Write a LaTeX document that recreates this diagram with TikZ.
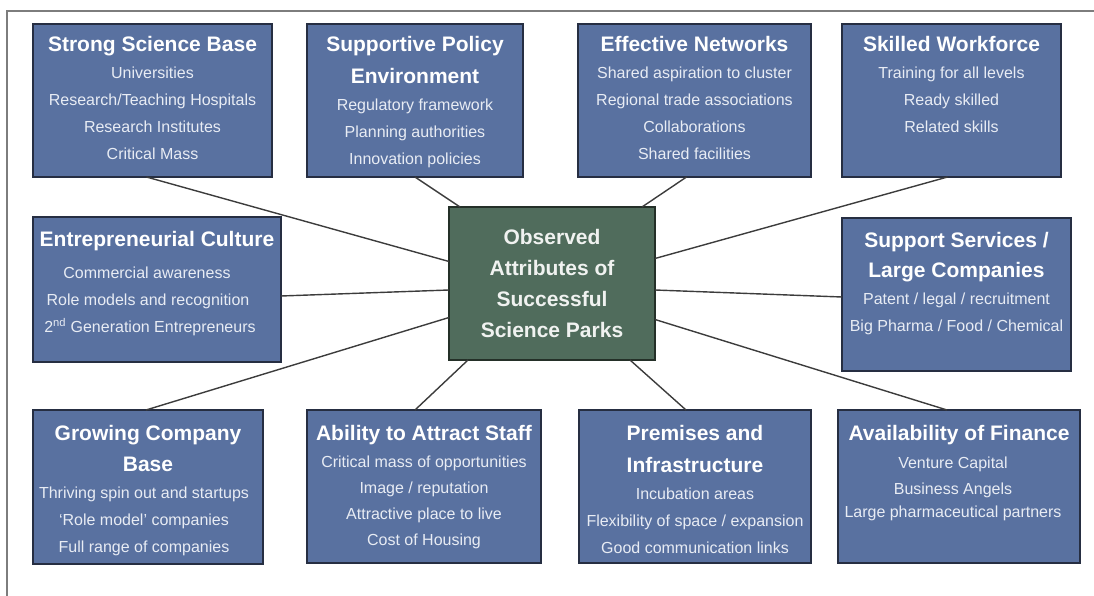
\documentclass[tikz,border=0pt]{standalone}
\usepackage{fontspec}
\setmainfont{Liberation Sans}
\definecolor{boxblue}{RGB}{89,113,160}
\definecolor{boxline}{RGB}{38,46,66}
\definecolor{cgreen}{RGB}{80,108,92}
\definecolor{cline}{RGB}{36,48,40}
\definecolor{itemcol}{RGB}{232,236,244}
\definecolor{ctext}{RGB}{240,242,240}
\definecolor{linkcol}{RGB}{60,60,60}
\definecolor{framecol}{RGB}{125,125,125}
\newcommand{\ttl}[1]{{\fontsize{21}{32}\selectfont\bfseries\color{white}#1}}
\newcommand{\lft}[1]{\kern#1pt\null}
\begin{document}
\begin{tikzpicture}[x=1pt,y=-1pt]
\tikzset{
  box/.style={draw=boxline, line width=1.3pt, fill=boxblue, inner sep=0pt, outer sep=0pt, minimum height=153pt},
  cbox/.style={draw=cline, line width=1.3pt, fill=cgreen, inner sep=0pt, outer sep=0pt, align=center,
    text=ctext, font=\fontsize{21}{31}\selectfont\bfseries},
  txt/.style={anchor=north, align=center, inner sep=0pt, text=itemcol, font=\fontsize{16}{27}\selectfont},
  link/.style={draw=linkcol, line width=1.4pt},
  frame/.style={draw=framecol, line width=2pt}
}
\useasboundingbox (0,0) rectangle (1094,596);
\coordinate (fl) at (7,596);
\coordinate (fc) at (7,11);
\coordinate (fr) at (1094,11);
\draw[frame] (fl) -- (fc) -- (fr);

% boxes
\node[box, minimum width=239pt] (b1) at (152.5,100.5) {};
\node[box, minimum width=216pt] (b2) at (415,100.5) {};
\node[box, minimum width=233pt] (b3) at (694.5,100.5) {};
\node[box, minimum width=219pt] (b4) at (951.5,100.5) {};
\node[box, minimum width=248pt, minimum height=145pt] (b5) at (157,289.5) {};
\node[box, minimum width=229pt] (b6) at (956.5,294.5) {};
\node[box, minimum width=230pt, minimum height=154pt] (b7) at (148,487) {};
\node[box, minimum width=234pt] (b8) at (424,486.5) {};
\node[box, minimum width=232pt] (b9) at (695,486.5) {};
\node[box, minimum width=242pt] (b10) at (959,486.5) {};
\node[cbox, minimum width=206pt, minimum height=153pt] (c) at (552,283.5)
  {Observed\\Attributes of\\Successful\\Science Parks};

% texts
\node[txt] (t1) at ([yshift=-12pt]b1.north)
  {\ttl{Strong Science Base}\\Universities\\Research/Teaching Hospitals\\Research Institutes\\Critical Mass};
\node[txt] (t2) at ([yshift=-12pt]b2.north)
  {\ttl{Supportive Policy}\\[5pt]\ttl{Environment}\\Regulatory framework\\Planning authorities\\Innovation policies};
\node[txt] (t3) at ([yshift=-12pt]b3.north)
  {\ttl{Effective Networks}\\Shared aspiration to cluster\\Regional trade associations\\Collaborations\\Shared facilities};
\node[txt] (t4) at ([yshift=-12pt]b4.north)
  {\ttl{Skilled Workforce}\\Training for all levels\\Ready skilled\\Related skills};
\node[txt] (t5) at ([yshift=-14pt]b5.north)
  {\ttl{Entrepreneurial Culture}\\[5pt]Commercial awareness\lft{20}\\Role models and recognition\lft{18}\\2\textsuperscript{nd} Generation Entrepreneurs\lft{14}};
\node[txt] (t6) at ([yshift=-14pt]b6.north)
  {\ttl{Support Services /}\\[3pt]\ttl{Large Companies}\\Patent / legal / recruitment\\Big Pharma / Food / Chemical};
\node[txt] (t7) at ([yshift=-15pt]b7.north)
  {\ttl{Growing Company}\\[4pt]\ttl{Base}\\Thriving spin out and startups\lft{8}\\`Role model' companies\lft{8}\\Full range of companies\lft{8}};
\node[txt] (t8) at ([yshift=-15pt]b8.north)
  {\ttl{Ability to Attract Staff}\\Critical mass of opportunities\\[-1pt]Image / reputation\\[-1pt]Attractive place to live\\[-1pt]Cost of Housing};
\node[txt] (t9) at ([yshift=-15pt]b9.north)
  {\ttl{Premises and}\\[5pt]\ttl{Infrastructure}\\Incubation areas\\Flexibility of space / expansion\\Good communication links};
\node[txt] (t10) at ([yshift=-15pt]b10.north)
  {\ttl{Availability of Finance}\\[1pt]Venture Capital\lft{12}\\[-1pt]Business Angels\lft{12}\\[-4pt]Large pharmaceutical partners\lft{12}};

% connectors
\draw[link] ([xshift=-6pt]b1.south) -- ([yshift=22pt]c.west);
\draw[link] (b2.south) -- ([xshift=-92pt]c.north);
\draw[link] ([xshift=-8pt]b3.south) -- ([xshift=90pt]c.north);
\draw[link] ([xshift=-4pt]b4.south) -- ([yshift=25pt]c.east);
\draw[link] ([yshift=-6.5pt]b5.east) -- ([yshift=-6.5pt]c.west);
\draw[link] ([yshift=-2.5pt]b6.west) -- ([yshift=-6.5pt]c.east);
\draw[link] ([xshift=-2pt]b7.north) -- ([yshift=-34pt]c.west);
\draw[link] ([xshift=-9pt]b8.north) -- ([xshift=-84pt]c.south);
\draw[link] ([xshift=-9pt]b9.north) -- ([xshift=78pt]c.south);
\draw[link] ([xshift=-12pt]b10.north) -- ([yshift=-36pt]c.east);
\end{tikzpicture}
\end{document}
